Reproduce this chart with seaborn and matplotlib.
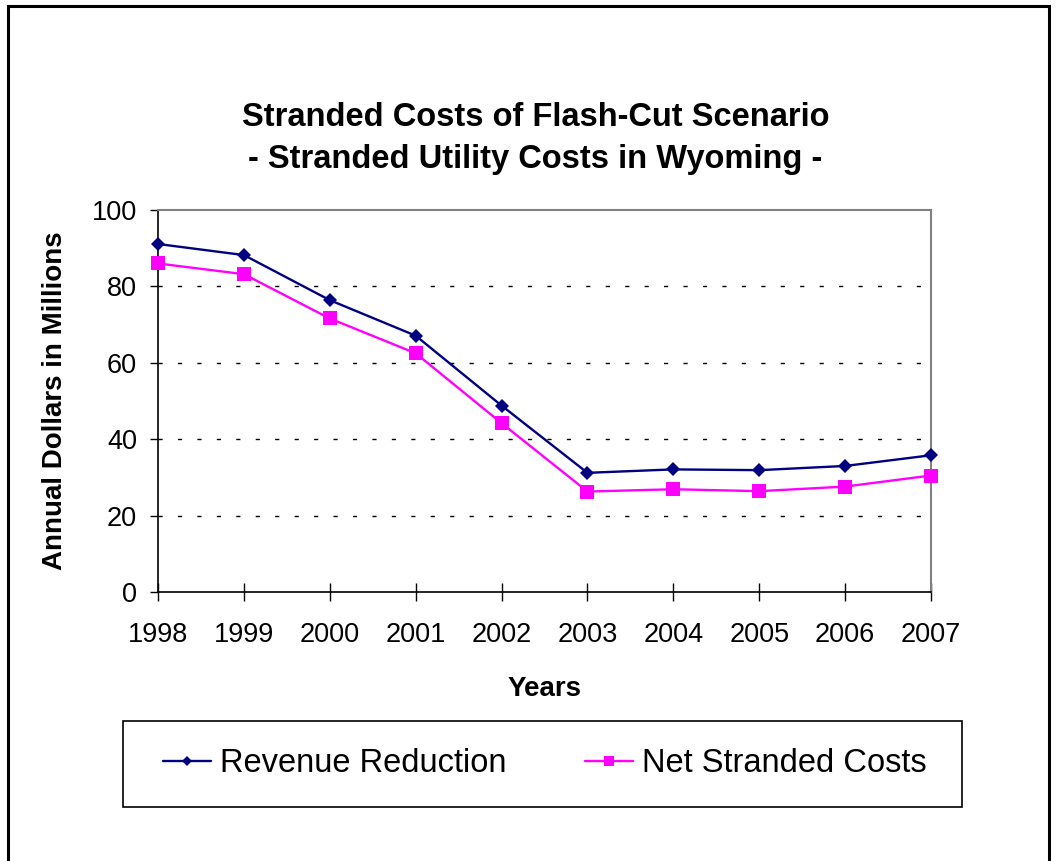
import matplotlib
matplotlib.use("Agg")
import matplotlib.pyplot as plt
import matplotlib.patches as mpatches
from matplotlib.lines import Line2D
import seaborn as sns
import pandas as pd

years = [1998, 1999, 2000, 2001, 2002, 2003, 2004, 2005, 2006, 2007]
revenue_reduction = [91.1, 88.2, 76.4, 67.1, 48.8, 31.2, 32.1, 31.9, 33.0, 35.8]
net_stranded_costs = [86.0, 83.2, 71.6, 62.5, 44.2, 26.3, 26.9, 26.4, 27.6, 30.5]
series_names = ["Revenue Reduction", "Net Stranded Costs"]
y_ticks = [0, 20, 40, 60, 80, 100]

sns.set_theme(style="white")
plt.rcParams["font.family"] = ["Liberation Sans", "DejaVu Sans"]
plt.rcParams["text.color"] = "black"
plt.rcParams["axes.labelcolor"] = "black"
plt.rcParams["xtick.color"] = "black"
plt.rcParams["ytick.color"] = "black"

df = pd.DataFrame({
    "Year": years * 2,
    "Value": revenue_reduction + net_stranded_costs,
    "Series": [series_names[0]] * len(years) + [series_names[1]] * len(years),
})

fig = plt.figure(figsize=(10.57, 8.61), dpi=100)
ax = fig.add_axes([0.1495, 0.3124, 0.7313, 0.4437])

palette = {series_names[0]: "#000080", series_names[1]: "#FF00FF"}
markers = {series_names[0]: "D", series_names[1]: "s"}
sizes = {series_names[0]: 7.6, series_names[1]: 10}

for name in series_names:
    sub = df[df["Series"] == name]
    sns.lineplot(data=sub, x="Year", y="Value", ax=ax, color=palette[name],
                 marker=markers[name], markersize=sizes[name],
                 markeredgewidth=0, linewidth=1.7, legend=False,
                 clip_on=False, zorder=3)

ax.set_xlim(years[0], years[-1])
ax.set_ylim(0, 100)
ax.set_xticks(years)
ax.set_xticklabels([str(y) for y in years])
ax.set_yticks(y_ticks)

for v in y_ticks[1:-1]:
    ax.axhline(v, color="black", linewidth=1.0, linestyle=(0, (3, 11)), zorder=0)

for side in ["left", "bottom"]:
    ax.spines[side].set_color("black")
    ax.spines[side].set_linewidth(1.2)
for side in ["top", "right"]:
    ax.spines[side].set_visible(True)
    ax.spines[side].set_color("#808080")
    ax.spines[side].set_linewidth(1.5)

ax.tick_params(axis="x", direction="inout", length=13, width=1, color="black",
               labelsize=19.5, pad=15, bottom=True)
ax.tick_params(axis="y", direction="out", length=6, width=1, color="black",
               labelsize=19.5, pad=9, left=True)

ax.set_xlabel("Years", fontsize=20, fontweight="bold", labelpad=20)
ax.set_ylabel("Annual Dollars in Millions", fontsize=20, fontweight="bold", labelpad=17)

fig.text(0.5066, 0.863, "Stranded Costs of Flash-Cut Scenario", ha="center", va="center",
         fontsize=23.5, fontweight="bold")
fig.text(0.5066, 0.815, "- Stranded Utility Costs in Wyoming -", ha="center", va="center",
         fontsize=23.5, fontweight="bold")

# legend frame drawn as its own box; entries placed inside it
frame = mpatches.Rectangle((123 / 1057, 1 - 807 / 861), (962 - 123) / 1057, (807 - 721) / 861,
                           transform=fig.transFigure, fill=False, edgecolor="black",
                           linewidth=1.2)
fig.patches.append(frame)

legend_handles = [
    Line2D([], [], color=palette[name], marker=markers[name],
           markersize=sizes[name] * 0.72, markeredgewidth=0, linewidth=1.7)
    for name in series_names
]
leg = fig.legend(legend_handles, series_names, loc="center", ncol=2, frameon=False,
                 bbox_to_anchor=(545 / 1057, 1 - 764 / 861),
                 fontsize=23.5, handlelength=1.47, handletextpad=0.28, columnspacing=2.4,
                 borderpad=0, borderaxespad=0)

border = mpatches.Rectangle((8 / 1057, -0.05), (1049 - 8) / 1057, 1.05 - 6 / 861,
                            transform=fig.transFigure, fill=False, edgecolor="black",
                            linewidth=2.2)
fig.patches.append(border)

fig.savefig("out.png", dpi=100)
